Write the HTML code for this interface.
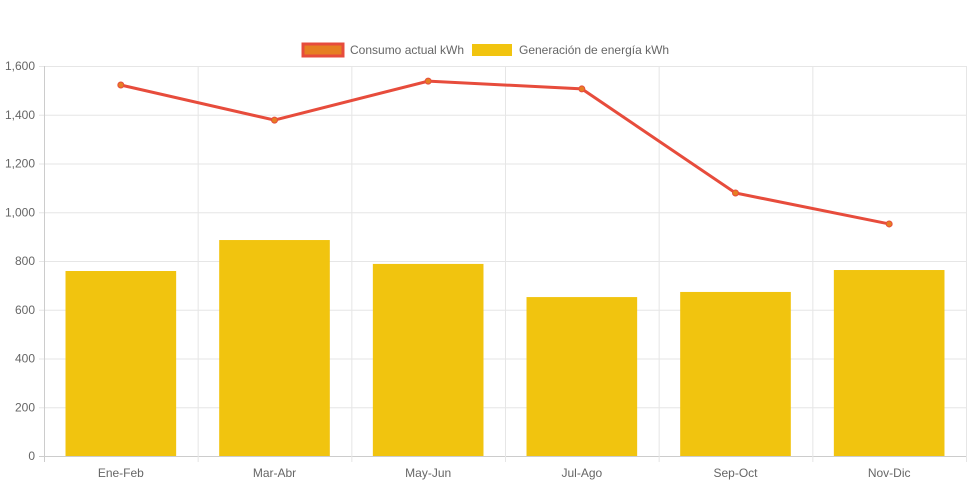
<!DOCTYPE html>
<html><head><meta charset="utf-8"><style>
body{margin:0;background:#fff;font-family:"Liberation Sans",sans-serif}
svg text{font-family:"Liberation Sans",sans-serif;fill:#666;font-size:12px}
</style></head><body>
<svg id="c" width="971" height="485"></svg>
<script>
const categories=["Ene-Feb","Mar-Abr","May-Jun","Jul-Ago","Sep-Oct","Nov-Dic"];
const consumo=[1522,1378,1538,1506,1079,952];
const generacion=[759,886,788,652,673,763];
const yTicks=[0,200,400,600,800,1000,1200,1400,1600];
const yTickLabels=["0","200","400","600","800","1,000","1,200","1,400","1,600"];
const svg=document.getElementById('c');const NS="http://www.w3.org/2000/svg";
const L=44,R=966,T=66,B=456,YMAX=1600;
const y=v=>B-(v/YMAX)*(B-T);
const cw=(R-L)/categories.length;
const x=i=>L+cw*(i+0.5);
function mk(t,a,p){const e=document.createElementNS(NS,t);for(const k in a)e.setAttribute(k,a[k]);(p||svg).appendChild(e);return e;}
yTicks.forEach((v,i)=>{
 const g=mk('line',{x1:L-5,x2:R,y1:y(v)+.5,y2:y(v)+.5,stroke:i==0?'#ccc':'#e6e6e6'});
 
 
 const t=mk('text',{x:L-9,y:y(v)+4,'text-anchor':'end'});t.textContent=yTickLabels[i];
 
 
});
for(let i=0;i<=categories.length;i++){
 const g=mk('line',{x1:L+cw*i+.5,x2:L+cw*i+.5,y1:T,y2:B+6,stroke:i==0?'#ccc':'#e6e6e6'});
 
 
}
const bw=cw*0.72;
categories.forEach((c,i)=>{
 const b=mk('rect',{x:x(i)-bw/2,y:y(generacion[i]),width:bw,height:B-y(generacion[i]),fill:'#f1c40f'});
 
 
 const t=mk('text',{x:x(i),y:B+21,'text-anchor':'middle'});t.textContent=c;
 
 
});
const pl=mk('polyline',{points:consumo.map((v,i)=>x(i)+','+y(v)).join(' '),fill:'none',stroke:'#e74c3c','stroke-width':3});


consumo.forEach((v,i)=>{
 const p=mk('circle',{cx:x(i),cy:y(v),r:3,fill:'#e67e22',stroke:'#e74c3c','stroke-width':1});
 
 
});
const lg1=mk('rect',{x:303,y:44,width:40,height:12,fill:'#e67e22',stroke:'#e74c3c','stroke-width':3});


const lt1=mk('text',{x:350,y:54});lt1.textContent="Consumo actual kWh";


const lg2=mk('rect',{x:472,y:44,width:40,height:12,fill:'#f1c40f'});


const lt2=mk('text',{x:519,y:54});lt2.textContent="Generación de energía kWh";


</script>
</body></html>
